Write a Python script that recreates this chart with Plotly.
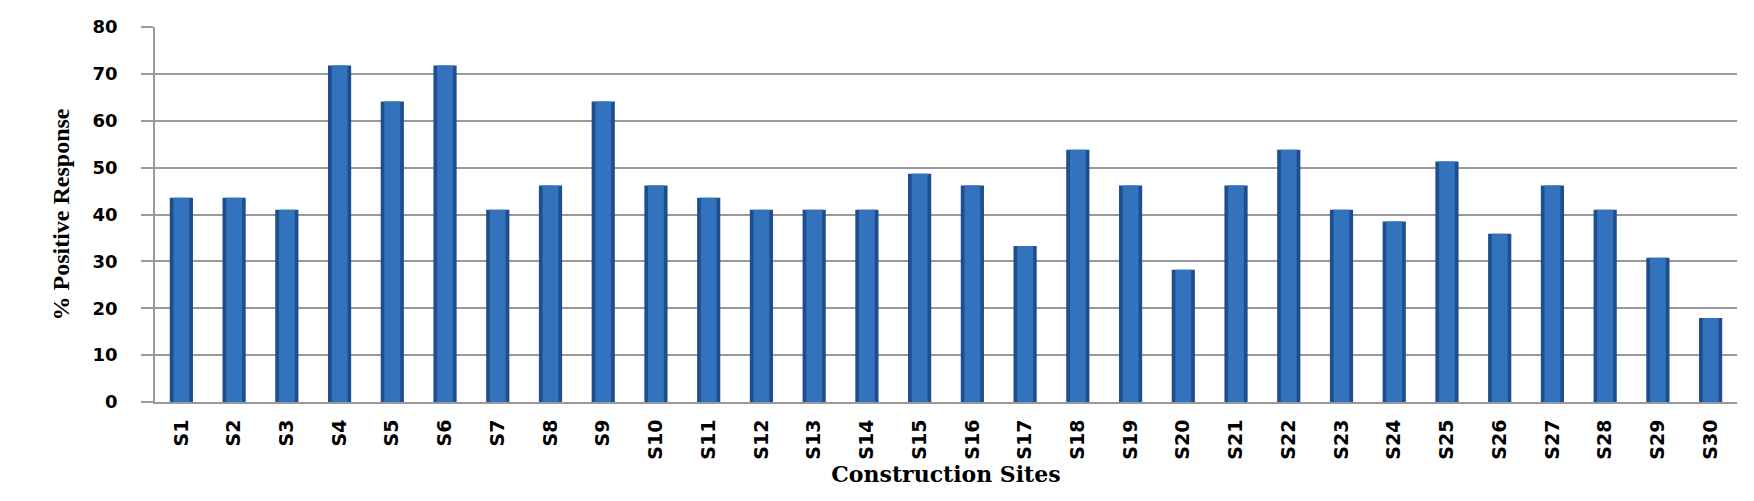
import plotly.graph_objects as go

sites = [f"S{i}" for i in range(1, 31)]
positive_pct = [43.6, 43.6, 41.0, 71.8, 64.1, 71.8, 41.0, 46.2, 64.1, 46.2,
                43.6, 41.0, 41.0, 41.0, 48.7, 46.2, 33.3, 53.8, 46.2, 28.2,
                46.2, 53.8, 41.0, 38.5, 51.3, 35.9, 46.2, 41.0, 30.8, 17.9]
y_ticks = [0, 10, 20, 30, 40, 50, 60, 70, 80]

fig = go.Figure()
# outer (darker) body of the cylinder-like bar
fig.add_trace(go.Bar(
    x=sites, y=positive_pct,
    marker=dict(color="#1F4E8C", line=dict(width=0)),
    width=0.44, hoverinfo="x+y",
))
# lighter core for a shaded look
fig.add_trace(go.Bar(
    x=sites, y=positive_pct,
    marker=dict(color="#3373BE", line=dict(width=0)),
    width=0.30, hoverinfo="skip",
))

fig.update_layout(
    width=1754, height=501,
    margin=dict(l=147, r=25, t=19, b=107),
    paper_bgcolor="white", plot_bgcolor="white",
    showlegend=False,
    barmode="overlay",
    xaxis=dict(
        type="category",
        tickangle=-90,
        tickfont=dict(family="DejaVu Sans", size=19, color="black", weight="bold"),
        ticklabelstandoff=8,
        showgrid=False,
        showline=True, linecolor="#999999", linewidth=2,
        ticks="",
        title=dict(text="Construction Sites",
                   font=dict(family="DejaVu Serif", size=22, color="black", weight="bold"),
                   standoff=8),
        automargin=False,
    ),
    yaxis=dict(
        range=[0, 80],
        tickvals=y_ticks,
        tickfont=dict(family="DejaVu Sans", size=18, color="black", weight="bold"),
        showgrid=True, gridcolor="#999999", gridwidth=2,
        showline=True, linecolor="#999999", linewidth=1.5,
        ticks="outside", ticklen=12, tickcolor="#999999", tickwidth=2,
        ticklabelstandoff=20,
        zeroline=False,
        title=dict(text="% Positive Response",
                   font=dict(family="Liberation Serif", size=24, color="black", weight="bold"),
                   standoff=16),
        automargin=False,
    ),
)

fig.write_html("out.html")
